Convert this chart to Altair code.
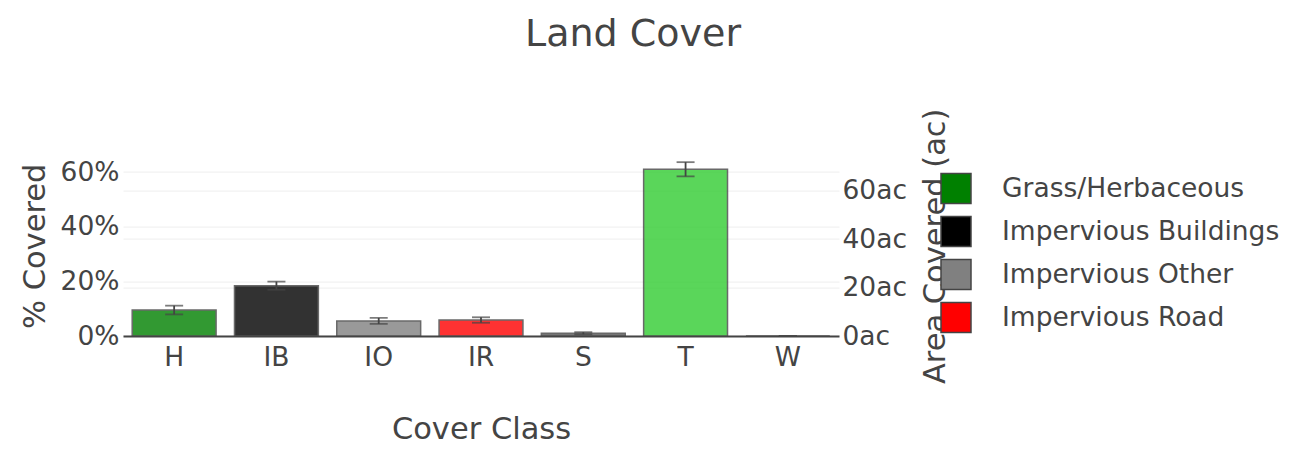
import altair as alt
import pandas as pd

classes = ["H", "IB", "IO", "IR", "S", "T", "W"]
names = ["Grass/Herbaceous", "Impervious Buildings", "Impervious Other",
         "Impervious Road", "Shrub", "Tree Canopy", "Water"]
pct = [9.5, 18.4, 5.5, 5.85, 1.0, 61.0, 0.0]
err = [1.6, 1.5, 1.1, 1.0, 0.4, 2.6, 0.0]
acres = [10.7, 20.7, 6.2, 6.6, 1.1, 68.7, 0.0]
colors = ["#008000", "#000000", "#808080", "#ff0000", "#555555", "#32cd32", "#1e90ff"]
legend_names = names[:4]

df = pd.DataFrame({
    "cls": classes,
    "name": names,
    "pct": pct,
    "lo": [p - e for p, e in zip(pct, err)],
    "hi": [p + e for p, e in zip(pct, err)],
    "acres": acres,
})

FONT = "DejaVu Sans"
TXT = "#444444"
W, H = 716, 180.4
LEFT_DOM = [0, 66]
RIGHT_DOM = [0, 74.4]

xenc = alt.X("cls:N", sort=classes,
             scale=alt.Scale(paddingInner=0.18, paddingOuter=0.09),
             axis=alt.Axis(title="Cover Class", labelAngle=0, ticks=False, tickSize=0,
                           labelPadding=8, labelFontSize=26.5, labelColor=TXT, labelFont=FONT,
                           titleFontSize=30.5, titleColor=TXT, titleFont=FONT, titleFontWeight="normal",
                           titleX=W / 2, titleY=102, titleBaseline="alphabetic",
                           domainColor=TXT, domainWidth=2, grid=False))

yaxis = alt.Axis(title="% Covered", values=[0, 20, 40, 60], labelExpr="datum.value + '%'",
                 ticks=False, tickSize=0, labelPadding=4, domain=False,
                 labelFontSize=26.5, labelColor=TXT, labelFont=FONT,
                 titleFontSize=30.5, titleColor=TXT, titleFont=FONT, titleFontWeight="normal",
                 titleX=-88, titleY=H / 2, titleBaseline="middle", titleAngle=270,
                 grid=True, gridColor="#eeeeee", gridWidth=1)

bars = alt.Chart(df).mark_bar(opacity=0.8, stroke="#444444", strokeWidth=1.5).encode(
    x=xenc,
    y=alt.Y("pct:Q", scale=alt.Scale(domain=LEFT_DOM, nice=False, zero=True), axis=yaxis),
    color=alt.Color("name:N", sort=names,
                    scale=alt.Scale(domain=names, range=colors),
                    legend=alt.Legend(title=None, values=legend_names, orient="none",
                                      legendX=817, legendY=17, symbolType="square",
                                      symbolSize=900, symbolStrokeColor="#444444",
                                      symbolStrokeWidth=1.5, symbolOpacity=1,
                                      labelFontSize=26.5, labelColor=TXT, labelFont=FONT,
                                      labelOffset=30, rowPadding=7, labelLimit=400)),
)

rules = alt.Chart(df).mark_rule(color="#444444", strokeWidth=1.8).encode(
    x=alt.X("cls:N", sort=classes),
    y=alt.Y("lo:Q", scale=alt.Scale(domain=LEFT_DOM, nice=False), axis=yaxis),
    y2="hi:Q",
)
caps_lo = alt.Chart(df).mark_tick(color="#444444", thickness=1.8, size=18).encode(
    x=alt.X("cls:N", sort=classes),
    y=alt.Y("lo:Q", scale=alt.Scale(domain=LEFT_DOM, nice=False), axis=yaxis),
)
caps_hi = alt.Chart(df).mark_tick(color="#444444", thickness=1.8, size=18).encode(
    x=alt.X("cls:N", sort=classes),
    y=alt.Y("hi:Q", scale=alt.Scale(domain=LEFT_DOM, nice=False), axis=yaxis),
)

left = alt.layer(bars, rules, caps_lo, caps_hi)

right = alt.Chart(df).mark_tick(opacity=0).encode(
    x=alt.X("cls:N", sort=classes),
    y=alt.Y("acres:Q", scale=alt.Scale(domain=RIGHT_DOM, nice=False),
            axis=alt.Axis(orient="right", title="Area Covered (ac)", values=[0, 20, 40, 60],
                          labelExpr="datum.value + 'ac'", ticks=False, tickSize=0,
                          labelPadding=3, domain=False,
                          labelFontSize=26.5, labelColor=TXT, labelFont=FONT,
                          titleFontSize=30.5, titleColor=TXT, titleFont=FONT,
                          titleFontWeight="normal", titleX=96, titleY=H / 2,
                          titleBaseline="middle", titleAngle=270,
                          grid=True, gridColor="#eeeeee", gridWidth=1)),
)

chart = alt.layer(left, right).resolve_scale(y="independent").properties(
    width=W, height=H,
    title=alt.TitleParams("Land Cover", fontSize=38, font=FONT, color=TXT, fontWeight="normal",
                          anchor="middle", frame="group", dx=152, offset=54),
    autosize=alt.AutoSizeParams(type="none"),
    padding={"left": 115, "top": 147.6, "right": 449, "bottom": 111},
).configure_view(stroke=None)

chart.save("out.html", embed_options={"renderer": "svg", "actions": False})
